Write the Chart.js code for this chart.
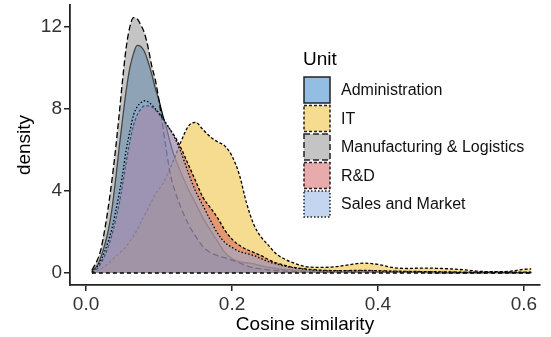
<!DOCTYPE html>
<html>
<head>
<meta charset="utf-8">
<script src="https://cdn.jsdelivr.net/npm/chart.js@4.4.0/dist/chart.umd.min.js"></script>
<style>
  html, body { margin: 0; padding: 0; background: #fff; }
</style>
</head>
<body>
<canvas id="chart" width="551" height="337"></canvas>
<script>
// cosine similarity grid and density per unit
const xs = [
  0.008, 0.015, 0.02, 0.025, 0.03, 0.035, 0.04, 0.045, 0.05, 0.055,
  0.06, 0.065, 0.07, 0.075, 0.08, 0.085, 0.09, 0.095, 0.10, 0.105,
  0.11, 0.115, 0.12, 0.13, 0.14, 0.15, 0.16, 0.17, 0.18, 0.19,
  0.20, 0.21, 0.22, 0.23, 0.24, 0.25, 0.26, 0.27, 0.28, 0.30,
  0.32, 0.34, 0.36, 0.38, 0.40, 0.42, 0.44, 0.46, 0.48, 0.50,
  0.52, 0.54, 0.56, 0.58, 0.60, 0.61
];
const admin = [
  0.1, 0.35, 0.75, 1.3, 2.0, 3.0, 4.4, 6.0, 7.5, 8.9,
  10.0, 10.7, 11.1, 11.05, 10.8, 10.3, 9.7, 9.0, 8.4, 7.7,
  7.1, 6.4, 5.8, 4.9, 4.1, 3.4, 2.7, 2.1, 1.55, 1.0,
  0.7, 0.55, 0.5, 0.45, 0.35, 0.28, 0.22, 0.18, 0.15, 0.1,
  0.08, 0.07, 0.06, 0.06, 0.05, 0.04, 0.03, 0.03, 0.02, 0.02,
  0.02, 0.02, 0.02, 0.02, 0.02, 0.02
];
const it = [
  0.0, 0.1, 0.2, 0.3, 0.45, 0.6, 0.8, 0.95, 1.1, 1.3,
  1.55, 1.8, 2.1, 2.45, 2.8, 3.15, 3.5, 3.85, 4.1, 4.35,
  4.7, 5.1, 5.5, 6.4, 7.15, 7.35, 7.0, 6.65, 6.4, 6.2,
  5.7, 4.8, 3.4, 2.35, 1.75, 1.35, 0.95, 0.72, 0.55, 0.32,
  0.27, 0.3, 0.4, 0.48, 0.42, 0.27, 0.22, 0.24, 0.23, 0.2,
  0.15, 0.08, 0.06, 0.08, 0.18, 0.2
];
const manuf = [
  0.15, 0.6, 1.1, 2.0, 3.1, 4.4, 5.9, 7.6, 9.4, 11.0,
  12.0, 12.45, 12.4, 12.1, 11.7, 11.0, 10.1, 9.4, 8.4, 7.2,
  6.0, 4.9, 4.2, 3.2, 2.4, 1.8, 1.3, 1.0, 0.85, 0.75,
  0.63, 0.5, 0.35, 0.25, 0.2, 0.15, 0.12, 0.1, 0.08, 0.06,
  0.05, 0.05, 0.05, 0.06, 0.05, 0.04, 0.03, 0.03, 0.02, 0.02,
  0.02, 0.02, 0.02, 0.02, 0.02, 0.02
];
const rnd = [
  0.03, 0.2, 0.45, 0.8, 1.25, 1.8, 2.5, 3.3, 4.3, 5.4,
  6.4, 7.2, 7.7, 8.0, 8.15, 8.15, 8.1, 7.95, 7.75, 7.5,
  7.25, 7.0, 6.75, 6.1, 5.3, 4.5, 3.7, 3.2, 2.7, 2.1,
  1.65, 1.35, 1.15, 1.0, 0.85, 0.65, 0.5, 0.4, 0.3, 0.2,
  0.14, 0.12, 0.12, 0.13, 0.11, 0.09, 0.08, 0.07, 0.06, 0.05,
  0.04, 0.04, 0.04, 0.04, 0.04, 0.04
];
const sales = [
  0.05, 0.3, 0.6, 1.0, 1.5, 2.1, 2.9, 3.8, 4.8, 6.0,
  6.9, 7.7, 8.1, 8.3, 8.4, 8.35, 8.2, 8.0, 7.8, 7.55,
  7.3, 7.0, 6.7, 5.9, 4.9, 4.0, 3.3, 2.6, 1.95, 1.5,
  1.25, 1.05, 0.95, 0.85, 0.7, 0.55, 0.45, 0.35, 0.28, 0.18,
  0.12, 0.1, 0.1, 0.12, 0.1, 0.08, 0.07, 0.06, 0.05, 0.04,
  0.03, 0.03, 0.03, 0.03, 0.03, 0.03
];
const units = ["Administration", "IT", "Manufacturing & Logistics", "R&D", "Sales and Market"];
const xTicks = [0, 0.2, 0.4, 0.6];
const yTicks = [0, 4, 8, 12];

const FONT = "'Liberation Sans', Arial, Helvetica, sans-serif";
const series = [admin, it, manuf, rnd, sales];
const fills = [
  "rgba(39,123,199,0.5)",
  "rgba(237,185,33,0.5)",
  "rgba(137,137,137,0.5)",
  "rgba(209,85,85,0.5)",
  "rgba(137,173,223,0.5)"
];
const dashes = [[], [3, 2], [6, 3], [3, 2], [1.5, 2]];

const datasets = units.map((name, i) => ({
  label: name,
  data: xs.map((x, j) => ({ x: x, y: series[i][j] })),
  order: units.length - i, // later units drawn on top
  fill: "origin",
  backgroundColor: fills[i],
  borderColor: "#000",
  borderWidth: 1.3,
  borderDash: dashes[i],
  pointRadius: 0,
  cubicInterpolationMode: "monotone",
}));

// bottom edge of the density polygons
datasets.push({
  label: "base",
  data: [{ x: xs[0], y: 0 }, { x: xs[xs.length - 1], y: 0 }],
  order: 0,
  fill: false,
  borderColor: "#000",
  borderWidth: 1.5,
  borderDash: [4, 3],
  pointRadius: 0,
});

const legendPlugin = {
  id: "unitLegend",
  afterDraw(chart) {
    const c = chart.ctx;
    c.save();
    c.fillStyle = "#000";
    c.textBaseline = "alphabetic";
    c.font = "19px " + FONT;
    c.fillText("Unit", 303, 65);
    c.font = "16px " + FONT;
    units.forEach((name, i) => {
      const y = 77 + i * 28.5;
      c.fillStyle = "#fff";
      c.fillRect(304, y, 26, 26);
      c.fillStyle = fills[i];
      c.fillRect(304, y, 26, 26);
      c.setLineDash(dashes[i]);
      c.lineWidth = 1.5;
      c.strokeStyle = "#222";
      c.strokeRect(304, y, 26, 26);
      c.setLineDash([]);
      c.fillStyle = "#111";
      c.textBaseline = "middle";
      c.fillText(name, 341, y + 14);
    });
    c.restore();
  }
};

const axisColor = "#222";

new Chart(document.getElementById("chart").getContext("2d"), {
  type: "line",
  data: { datasets: datasets },
  options: {
    responsive: false,
    animation: false,
    layout: { padding: { top: 5, right: 11, left: 0, bottom: 0 } },
    plugins: {
      legend: { display: false },
      tooltip: { enabled: false },
    },
    scales: {
      x: {
        type: "linear",
        min: -0.022,
        max: 0.622,
        afterBuildTicks: (s) => { s.ticks = xTicks.map(v => ({ value: v })); },
        afterFit: (s) => { s.height = 52; s.paddingLeft = 0; s.paddingRight = 0; },
        ticks: {
          callback: (v) => v.toFixed(1),
          color: "#333",
          font: { family: FONT, size: 19 },
          padding: 2,
          maxRotation: 0,
        },
        grid: { drawOnChartArea: false, drawTicks: true, tickLength: 6, color: axisColor, lineWidth: 1.5 },
        border: { display: true, color: axisColor, width: 1.8 },
        title: {
          display: true,
          text: "Cosine similarity",
          color: "#000",
          font: { family: FONT, size: 19 },
          padding: { top: 0, bottom: 1 },
        },
      },
      y: {
        type: "linear",
        min: -0.585,
        max: 13.07,
        afterBuildTicks: (s) => { s.ticks = yTicks.map(v => ({ value: v })); },
        afterFit: (s) => { s.width = 70; s.paddingTop = 0; s.paddingBottom = 0; },
        ticks: {
          callback: (v) => String(v),
          color: "#333",
          font: { family: FONT, size: 19 },
          padding: 2,
        },
        grid: { drawOnChartArea: false, drawTicks: true, tickLength: 6, color: axisColor, lineWidth: 1.5 },
        border: { display: true, color: axisColor, width: 1.8 },
        title: {
          display: true,
          text: "density",
          color: "#000",
          font: { family: FONT, size: 19 },
          padding: { top: 13, bottom: 0 },
        },
      },
    },
  },
  plugins: [legendPlugin],
});
</script>
</body>
</html>
